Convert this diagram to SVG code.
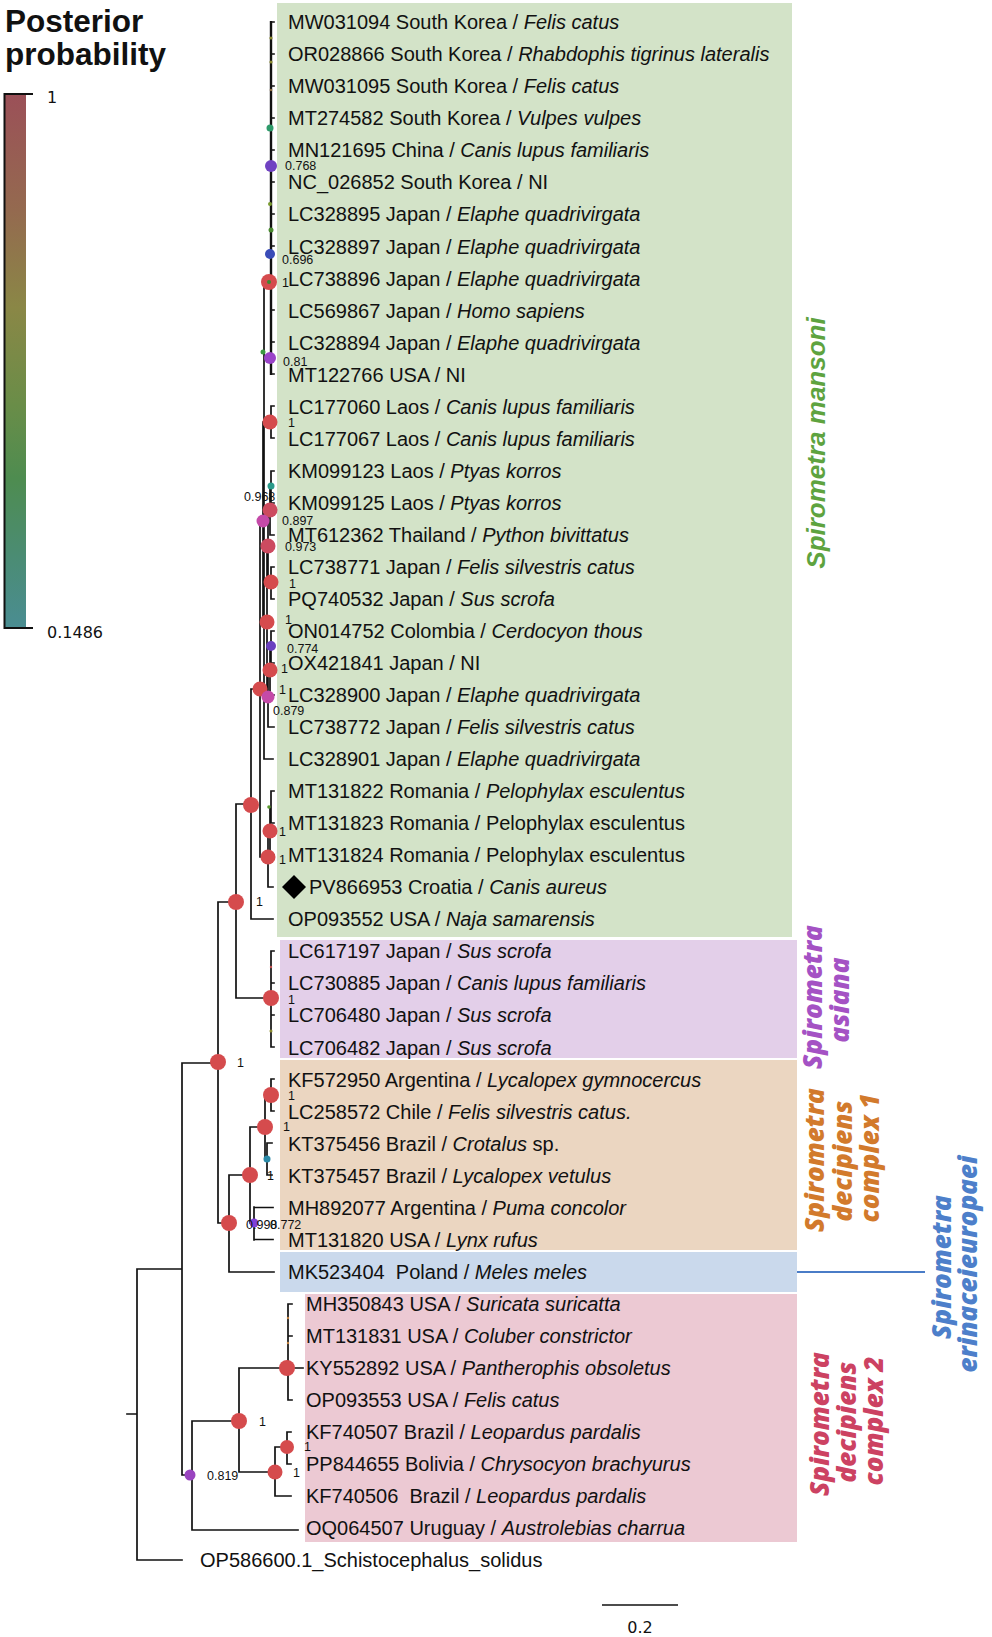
<svg xmlns="http://www.w3.org/2000/svg" width="992" height="1637" viewBox="0 0 992 1637">
<style>
.t{font-family:"Liberation Sans",Arial,sans-serif;font-size:20px;fill:#111}
.i{font-style:italic}
.nl{font-family:"Liberation Sans",Arial,sans-serif;font-size:12.5px;fill:#111}
.br{stroke:#111;stroke-width:1.7;fill:none;stroke-linecap:square}
.cl{font-family:"Open Sans","Liberation Sans",sans-serif;font-size:26px;font-weight:800;font-style:italic;text-anchor:middle}
.lg{font-family:"DejaVu Sans",sans-serif;font-size:16px;fill:#111}
.r{fill:#d54b4d}
</style>
<defs>
<linearGradient id="pp" x1="0" y1="0" x2="0" y2="1">
<stop offset="0" stop-color="#9b5058"/>
<stop offset="0.22" stop-color="#946a4f"/>
<stop offset="0.4" stop-color="#8a8746"/>
<stop offset="0.58" stop-color="#6a8d48"/>
<stop offset="0.72" stop-color="#4e8c50"/>
<stop offset="0.86" stop-color="#4b8c72"/>
<stop offset="1" stop-color="#4a8d92"/>
</linearGradient>
</defs>
<rect width="992" height="1637" fill="#fff"/>

<g id="legend">
<text x="5" y="32" style="font-family:'Liberation Sans',Arial,sans-serif;font-size:31.5px;font-weight:bold" fill="#111">Posterior</text>
<text x="5" y="65" style="font-family:'Liberation Sans',Arial,sans-serif;font-size:31.5px;font-weight:bold" fill="#111">probability</text>
<rect x="5" y="94" width="21" height="534" fill="url(#pp)"/>
<path d="M33,94 H4.5 V628 H33" fill="none" stroke="#111" stroke-width="2"/>
<text class="lg" x="47" y="103">1</text>
<text class="lg" x="47" y="638">0.1486</text>
</g>

<g id="clade-backgrounds">
<rect x="277" y="3" width="515" height="934" fill="#d3e3c8"/>
<rect x="280" y="940" width="517" height="118" fill="#e3cfe9"/>
<rect x="280" y="1060" width="517" height="190" fill="#ebd6c1"/>
<rect x="280" y="1252" width="517" height="40" fill="#cad9ec"/>
<rect x="305" y="1294" width="492" height="248" fill="#ecc9d3"/>
</g>

<g id="connectors">
<path class="br" d="M127,1414H137 M137,1269V1560 M137,1269H182 M137,1560H182
M182,1063V1475 M182,1063H218 M182,1475H192
M192,1421V1530 M192,1421H239 M192,1530H298
M239,1368V1472 M239,1368H288 M239,1472H275
M288,1304V1400 M288,1304H292 M288,1336H292 M288,1368H303 M288,1400H292
M275,1447V1496 M275,1447H287 M275,1496H291
M287,1432V1464 M287,1432H291 M287,1464H291
M218,902V1223 M218,902H236 M218,1223H229
M229,1175V1272 M229,1175H250 M229,1272H274
M250,1127V1223 M250,1127H265 M250,1223H254
M254,1207V1240 M254,1207.5H273 M254,1239.5H273
M265,1095V1159 M265,1095H271 M265,1159H267
M271,1079V1111 M271,1079H274 M271,1111H274
M267,1143V1175 M267,1143H272 M267,1175H272
M236,804V998 M236,804H251 M236,998H271
M271,951V1047 M271,951H274 M271,983H274 M271,1015H274 M271,1047H274
M251,689V919 M251,689H260 M251,919H273
M260,521V857 M260,521H263 M260,857H268
M268,831V887 M268,831H270 M268,887H273
M270,807V855 M270,807H271 M270,855H274
M271,791V823 M271,791H274 M271,823H274
M264,282V759 M264,282H269 M264,759H273
M263,422V622 M263,422H271 M263,622H267
M271,406V438 M271,406H274 M271,438H274
M267,546V698 M267,546H268 M267,698H268
M268,510V583 M268,510H270 M268,583H271
M270,487V535 M270,487H271 M270,535H274
M271,471V503 M271,471H274 M271,503H274
M271,567V599 M271,567H274 M271,599H274
M268,670V727 M268,670H270 M268,727H274
M270,647V695 M270,647H271 M270,695H274
M271,631V663 M271,631H274 M271,663H274
M271,22H274 M271,54H274 M271,86H274 M271,118H274 M271,150H274 M271,182H274 M271,214H274 M271,246H274 M271,278H274 M271,310H274 M271,342H274 M271,374H274"/>
<path d="M271,21V375" stroke="#111" stroke-width="2.4" fill="none"/>
<path d="M602,1605H678" stroke="#111" stroke-width="1.7"/>
<path d="M797,1272H925" stroke="#4a7cc7" stroke-width="2"/>
</g>

<g id="nodes">
<circle cx="271" cy="38" r="1.6" fill="#8a8a30"/>
<circle cx="271" cy="62" r="1.6" fill="#8a8a30"/>
<circle cx="271" cy="90" r="1.3" fill="#8a6a40"/>
<circle cx="270" cy="128" r="3.5" fill="#2e9a6a"/>
<circle cx="271" cy="166" r="6" fill="#7042c2"/>
<circle cx="270" cy="204" r="2" fill="#7a9a30"/>
<circle cx="271" cy="230" r="2.5" fill="#4a8a30"/>
<circle cx="270" cy="254" r="5" fill="#3a4cb8"/>
<circle class="r" cx="269" cy="282" r="8"/>
<circle cx="269" cy="282" r="2" fill="#3a8a30"/>
<circle cx="263" cy="352" r="2.5" fill="#3a9a40"/>
<circle cx="270" cy="358" r="6" fill="#9a44c8"/>
<circle class="r" cx="270" cy="422" r="7.5"/>
<circle cx="271" cy="486" r="3.5" fill="#2a9a8a"/>
<circle cx="270" cy="510" r="7.5" fill="#cc4b5e"/>
<circle cx="263" cy="521" r="6.5" fill="#c44aa8"/>
<circle cx="268" cy="546" r="7.5" fill="#cc4b60"/>
<circle class="r" cx="271" cy="582" r="7.5"/>
<circle class="r" cx="267" cy="622" r="7.5"/>
<circle cx="271" cy="646" r="5" fill="#6a40c0"/>
<circle class="r" cx="270" cy="670" r="7.5"/>
<circle class="r" cx="260" cy="689" r="7.5"/>
<circle cx="268" cy="697" r="6.5" fill="#c44aa8"/>
<circle class="r" cx="251" cy="805" r="8"/>
<circle cx="269" cy="807" r="1.8" fill="#5a9a30"/>
<circle class="r" cx="270" cy="831" r="7.5"/>
<circle class="r" cx="268" cy="857" r="7.5"/>
<circle class="r" cx="236" cy="902" r="8"/>
<circle cx="271" cy="967" r="1.2" fill="#c05050"/>
<circle cx="271" cy="1031" r="1.5" fill="#8a8a30"/>
<circle class="r" cx="271" cy="998" r="8"/>
<circle class="r" cx="218" cy="1062" r="8"/>
<circle class="r" cx="271" cy="1095" r="8"/>
<circle class="r" cx="265" cy="1127" r="8"/>
<circle cx="267" cy="1159" r="3.5" fill="#2a8aa8"/>
<circle class="r" cx="250" cy="1175" r="8"/>
<circle class="r" cx="229" cy="1223" r="8"/>
<circle cx="254" cy="1223" r="4.5" fill="#8040d8"/>
<circle cx="288" cy="1318" r="1.2" fill="#c08040"/>
<circle cx="288" cy="1343" r="1.2" fill="#c08040"/>
<circle class="r" cx="287" cy="1368" r="8"/>
<circle class="r" cx="239" cy="1421" r="8"/>
<circle class="r" cx="287" cy="1447" r="7"/>
<circle class="r" cx="275" cy="1472" r="7.5"/>
<circle cx="190" cy="1475" r="5.5" fill="#9a44c0"/>
<polygon points="294,875 306,887 294,899 282,887" fill="#000"/>
</g>

<g id="node-labels">
<text class="nl" x="285" y="170">0.768</text>
<text class="nl" x="282" y="264">0.696</text>
<text class="nl" x="282" y="287">1</text>
<text class="nl" x="283" y="366">0.81</text>
<text class="nl" x="288" y="427">1</text>
<text class="nl" x="244" y="501">0.968</text>
<text class="nl" x="282" y="525">0.897</text>
<text class="nl" x="285" y="551">0.973</text>
<text class="nl" x="289" y="588">1</text>
<text class="nl" x="285" y="624">1</text>
<text class="nl" x="287" y="653">0.774</text>
<text class="nl" x="281" y="673">1</text>
<text class="nl" x="279" y="694">1</text>
<text class="nl" x="273" y="715">0.879</text>
<text class="nl" x="279" y="836">1</text>
<text class="nl" x="279" y="864">1</text>
<text class="nl" x="256" y="906">1</text>
<text class="nl" x="288" y="1004">1</text>
<text class="nl" x="237" y="1067">1</text>
<text class="nl" x="288" y="1100">1</text>
<text class="nl" x="283" y="1131">1</text>
<text class="nl" x="267" y="1180">1</text>
<text class="nl" x="246" y="1229">0.998</text>
<text class="nl" x="270" y="1229">0.772</text>
<text class="nl" x="259" y="1426">1</text>
<text class="nl" x="304" y="1451">1</text>
<text class="nl" x="293" y="1477">1</text>
<text class="nl" x="207" y="1480">0.819</text>
</g>

<g id="tips">
<text class="t" x="288" y="29.2">MW031094 South Korea / <tspan class="i">Felis catus</tspan></text>
<text class="t" x="288" y="61.2">OR028866 South Korea / <tspan class="i">Rhabdophis tigrinus lateralis</tspan></text>
<text class="t" x="288" y="93.3">MW031095 South Korea / <tspan class="i">Felis catus</tspan></text>
<text class="t" x="288" y="125.3">MT274582 South Korea / <tspan class="i">Vulpes vulpes</tspan></text>
<text class="t" x="288" y="157.4">MN121695 China / <tspan class="i">Canis lupus familiaris</tspan></text>
<text class="t" x="288" y="189.4">NC_026852 South Korea / NI</text>
<text class="t" x="288" y="221.4">LC328895 Japan / <tspan class="i">Elaphe quadrivirgata</tspan></text>
<text class="t" x="288" y="253.5">LC328897 Japan / <tspan class="i">Elaphe quadrivirgata</tspan></text>
<text class="t" x="288" y="285.5">LC738896 Japan / <tspan class="i">Elaphe quadrivirgata</tspan></text>
<text class="t" x="288" y="317.6">LC569867 Japan / <tspan class="i">Homo sapiens</tspan></text>
<text class="t" x="288" y="349.6">LC328894 Japan / <tspan class="i">Elaphe quadrivirgata</tspan></text>
<text class="t" x="288" y="381.6">MT122766 USA / NI</text>
<text class="t" x="288" y="413.7">LC177060 Laos / <tspan class="i">Canis lupus familiaris</tspan></text>
<text class="t" x="288" y="445.7">LC177067 Laos / <tspan class="i">Canis lupus familiaris</tspan></text>
<text class="t" x="288" y="477.8">KM099123 Laos / <tspan class="i">Ptyas korros</tspan></text>
<text class="t" x="288" y="509.8">KM099125 Laos / <tspan class="i">Ptyas korros</tspan></text>
<text class="t" x="288" y="541.8">MT612362 Thailand / <tspan class="i">Python bivittatus</tspan></text>
<text class="t" x="288" y="573.9">LC738771 Japan / <tspan class="i">Felis silvestris catus</tspan></text>
<text class="t" x="288" y="605.9">PQ740532 Japan / <tspan class="i">Sus scrofa</tspan></text>
<text class="t" x="288" y="638.0">ON014752 Colombia / <tspan class="i">Cerdocyon thous</tspan></text>
<text class="t" x="288" y="670.0">OX421841 Japan / NI</text>
<text class="t" x="288" y="702.0">LC328900 Japan / <tspan class="i">Elaphe quadrivirgata</tspan></text>
<text class="t" x="288" y="734.1">LC738772 Japan / <tspan class="i">Felis silvestris catus</tspan></text>
<text class="t" x="288" y="766.1">LC328901 Japan / <tspan class="i">Elaphe quadrivirgata</tspan></text>
<text class="t" x="288" y="798.2">MT131822 Romania / <tspan class="i">Pelophylax esculentus</tspan></text>
<text class="t" x="288" y="830.2">MT131823 Romania / Pelophylax esculentus</text>
<text class="t" x="288" y="862.2">MT131824 Romania / Pelophylax esculentus</text>
<text class="t" x="309" y="894.3">PV866953 Croatia / <tspan class="i">Canis aureus</tspan></text>
<text class="t" x="288" y="926.3">OP093552 USA / <tspan class="i">Naja samarensis</tspan></text>
<text class="t" x="288" y="958.4">LC617197 Japan / <tspan class="i">Sus scrofa</tspan></text>
<text class="t" x="288" y="990.4">LC730885 Japan / <tspan class="i">Canis lupus familiaris</tspan></text>
<text class="t" x="288" y="1022.4">LC706480 Japan / <tspan class="i">Sus scrofa</tspan></text>
<text class="t" x="288" y="1054.5">LC706482 Japan / <tspan class="i">Sus scrofa</tspan></text>
<text class="t" x="288" y="1086.5">KF572950 Argentina / <tspan class="i">Lycalopex gymnocercus</tspan></text>
<text class="t" x="288" y="1118.6">LC258572 Chile / <tspan class="i">Felis silvestris catus.</tspan></text>
<text class="t" x="288" y="1150.6">KT375456 Brazil / <tspan class="i">Crotalus</tspan> sp.</text>
<text class="t" x="288" y="1182.6">KT375457 Brazil / <tspan class="i">Lycalopex vetulus</tspan></text>
<text class="t" x="288" y="1214.7">MH892077 Argentina / <tspan class="i">Puma concolor</tspan></text>
<text class="t" x="288" y="1246.7">MT131820 USA / <tspan class="i">Lynx rufus</tspan></text>
<text class="t" x="288" y="1278.8" xml:space="preserve">MK523404  Poland / <tspan class="i">Meles meles</tspan></text>
<text class="t" x="306" y="1310.8">MH350843 USA / <tspan class="i">Suricata suricatta</tspan></text>
<text class="t" x="306" y="1342.8">MT131831 USA / <tspan class="i">Coluber constrictor</tspan></text>
<text class="t" x="306" y="1374.9">KY552892 USA / <tspan class="i">Pantherophis obsoletus</tspan></text>
<text class="t" x="306" y="1406.9">OP093553 USA / <tspan class="i">Felis catus</tspan></text>
<text class="t" x="306" y="1439.0">KF740507 Brazil / <tspan class="i">Leopardus pardalis</tspan></text>
<text class="t" x="306" y="1471.0">PP844655 Bolivia / <tspan class="i">Chrysocyon brachyurus</tspan></text>
<text class="t" x="306" y="1503.0" xml:space="preserve">KF740506  Brazil / <tspan class="i">Leopardus pardalis</tspan></text>
<text class="t" x="306" y="1535.1">OQ064507 Uruguay / <tspan class="i">Austrolebias charrua</tspan></text>
<text class="t" x="200" y="1567.1">OP586600.1_Schistocephalus_solidus</text>
</g>

<g id="clade-labels">
<text transform="translate(824.5,443) rotate(-90)" style="font-family:'Liberation Sans',Arial,sans-serif;font-size:26px;font-weight:bold;font-style:italic;text-anchor:middle" fill="#5ea33f">Spirometra mansoni</text>
<text class="cl" fill="#a452c4" transform="translate(822,997) rotate(-90)">Spirometra</text>
<text class="cl" fill="#a452c4" transform="translate(849,1000) rotate(-90)">asiana</text>
<text class="cl" fill="#d27a2c" transform="translate(824,1160) rotate(-90)">Spirometra</text>
<text class="cl" fill="#d27a2c" transform="translate(852,1161) rotate(-90)">decipiens</text>
<text class="cl" fill="#d27a2c" transform="translate(879,1158) rotate(-90)">complex 1</text>
<text class="cl" fill="#4d7fca" transform="translate(951,1267) rotate(-90)">Spirometra</text>
<text class="cl" fill="#4d7fca" transform="translate(977,1264) rotate(-90)">erinaceieuropaei</text>
<text class="cl" fill="#cc4262" transform="translate(829,1424) rotate(-90)">Spirometra</text>
<text class="cl" fill="#cc4262" transform="translate(856,1422) rotate(-90)">decipiens</text>
<text class="cl" fill="#cc4262" transform="translate(883,1421) rotate(-90)">complex 2</text>
</g>

<g id="scale">
<text class="lg" x="640" y="1633" text-anchor="middle">0.2</text>
</g>
</svg>
